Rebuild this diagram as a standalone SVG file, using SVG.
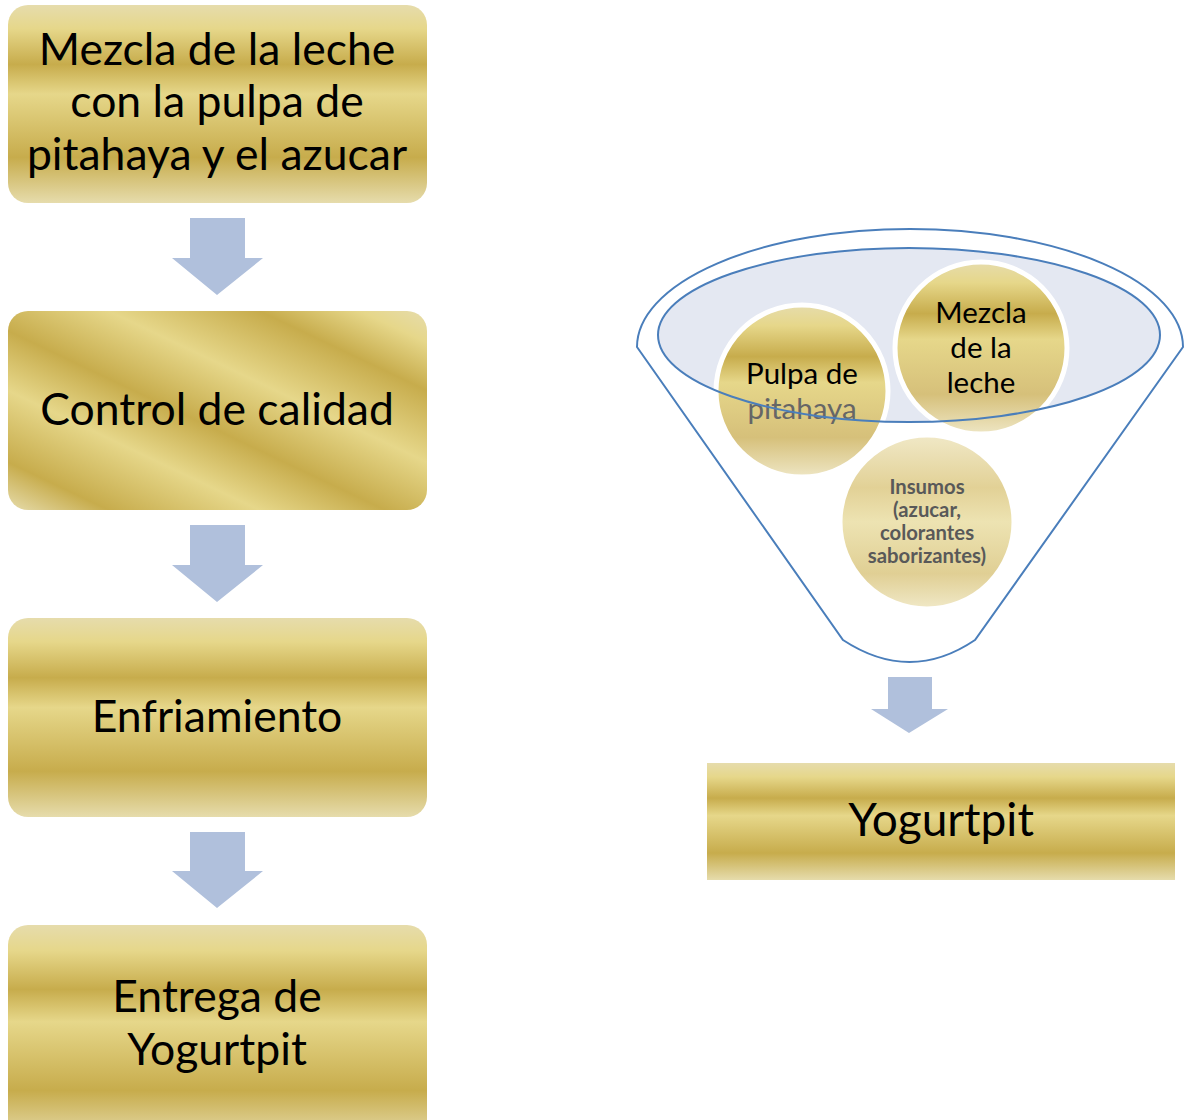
<svg xmlns="http://www.w3.org/2000/svg" width="1186" height="1120" viewBox="0 0 1186 1120">
<style>
.t{font-family:Lato,"Open Sans","Liberation Sans",sans-serif;fill:#000;text-anchor:middle}
.big{font-size:44.5px}
.mid{font-size:29.5px}
.sm{font-size:20.3px;font-weight:bold;fill:#595959}
.arr{fill:#b0c0dc}
</style>
<defs>
<linearGradient id="gv" x1="0" y1="0" x2="0" y2="1">
<stop offset="0" stop-color="#e6dcac"/>
<stop offset="0.12" stop-color="#e6d78a"/>
<stop offset="0.3" stop-color="#c7ac4c"/>
<stop offset="0.45" stop-color="#e6d78a"/>
<stop offset="0.77" stop-color="#c7ac4c"/>
<stop offset="1" stop-color="#e6dcac"/>
</linearGradient>
<linearGradient id="gd" x1="0" y1="1" x2="1" y2="0">
<stop offset="0" stop-color="#e6dcac"/>
<stop offset="0.12" stop-color="#c7ac4c"/>
<stop offset="0.3" stop-color="#e6d78a"/>
<stop offset="0.45" stop-color="#c7ac4c"/>
<stop offset="0.62" stop-color="#e6d78a"/>
<stop offset="0.8" stop-color="#c7ac4c"/>
<stop offset="0.92" stop-color="#e6d78a"/>
<stop offset="1" stop-color="#e6dcac"/>
</linearGradient>
<linearGradient id="gc" x1="0" y1="0" x2="0" y2="1">
<stop offset="0" stop-color="#e6dcac"/>
<stop offset="0.12" stop-color="#e6d78a"/>
<stop offset="0.3" stop-color="#c7ac4c"/>
<stop offset="0.45" stop-color="#e6d78a"/>
<stop offset="0.77" stop-color="#d6c07a"/>
<stop offset="1" stop-color="#eee6c4"/>
</linearGradient>
<linearGradient id="gp" x1="0" y1="0" x2="0" y2="1">
<stop offset="0" stop-color="#f0e8c6"/>
<stop offset="0.3" stop-color="#e2d196"/>
<stop offset="0.5" stop-color="#ede3b2"/>
<stop offset="0.8" stop-color="#e0cf94"/>
<stop offset="1" stop-color="#f0e8c6"/>
</linearGradient>
</defs>

<g id="step1"><rect x="8" y="5" width="419" height="198" rx="20" fill="url(#gv)"/>
<text class="t big" x="217" y="65">Mezcla de la leche</text>
<text class="t big" x="217" y="117">con la pulpa de</text>
<text class="t big" x="217" y="170">pitahaya y el azucar</text></g>

<g id="step2"><rect x="8" y="311" width="419" height="199" rx="20" fill="url(#gd)"/>
<text class="t big" x="217" y="425">Control de calidad</text></g>

<g id="step3"><rect x="8" y="618" width="419" height="199" rx="20" fill="url(#gv)"/>
<text class="t big" x="217" y="732">Enfriamiento</text></g>

<g id="step4"><rect x="8" y="925" width="419" height="215" rx="20" fill="url(#gv)"/>
<text class="t big" x="217" y="1012">Entrega de</text>
<text class="t big" x="217" y="1065">Yogurtpit</text></g>

<g id="funnel">
<path d="M637,347 A273,118 0 0 1 1183,347 L975,640 Q910,684 843,640 Z" fill="#fff" stroke="#4a7ebb" stroke-width="2"/>
<ellipse cx="909" cy="335" rx="251" ry="87" fill="#e4e8f2" stroke="none"/>
</g>

<g id="pulpa"><circle cx="802" cy="391" r="86" fill="url(#gc)" stroke="#fff" stroke-width="5"/>
<text class="t mid" x="802" y="384">Pulpa de</text>
<text class="t mid" x="802" y="419" style="fill:#666">pitahaya</text></g>

<g id="mezcla"><circle cx="981" cy="348" r="86" fill="url(#gc)" stroke="#fff" stroke-width="5"/>
<text class="t mid" x="981" y="323">Mezcla</text>
<text class="t mid" x="981" y="358">de la</text>
<text class="t mid" x="981" y="393">leche</text></g>

<g id="insumos"><circle cx="927" cy="522" r="86" fill="url(#gp)" stroke="#fff" stroke-width="3"/>
<text class="t sm" x="927" y="494">Insumos</text>
<text class="t sm" x="927" y="517">(azucar,</text>
<text class="t sm" x="927" y="540">colorantes</text>
<text class="t sm" x="927" y="563">saborizantes)</text></g>

<g id="funnel-rim"><ellipse cx="909" cy="335" rx="251" ry="87" fill="none" stroke="#4a7ebb" stroke-width="2"/></g>

<g id="result"><rect x="707" y="763" width="468" height="117" fill="url(#gv)"/>
<text class="t" style="font-size:46px" x="941" y="836">Yogurtpit</text></g>

<g id="connectors">
<path class="arr" d="M190,218 H245 V258 H263 L217,295 L172,258 H190 Z"/>
<path class="arr" d="M190,525 H245 V565 H263 L217,602 L172,565 H190 Z"/>
<path class="arr" d="M190,832 H245 V871 H263 L217,908 L172,871 H190 Z"/>
<path class="arr" d="M888,677 H932 V709 H948 L909,733 L871,709 H888 Z"/>
</g>
</svg>
